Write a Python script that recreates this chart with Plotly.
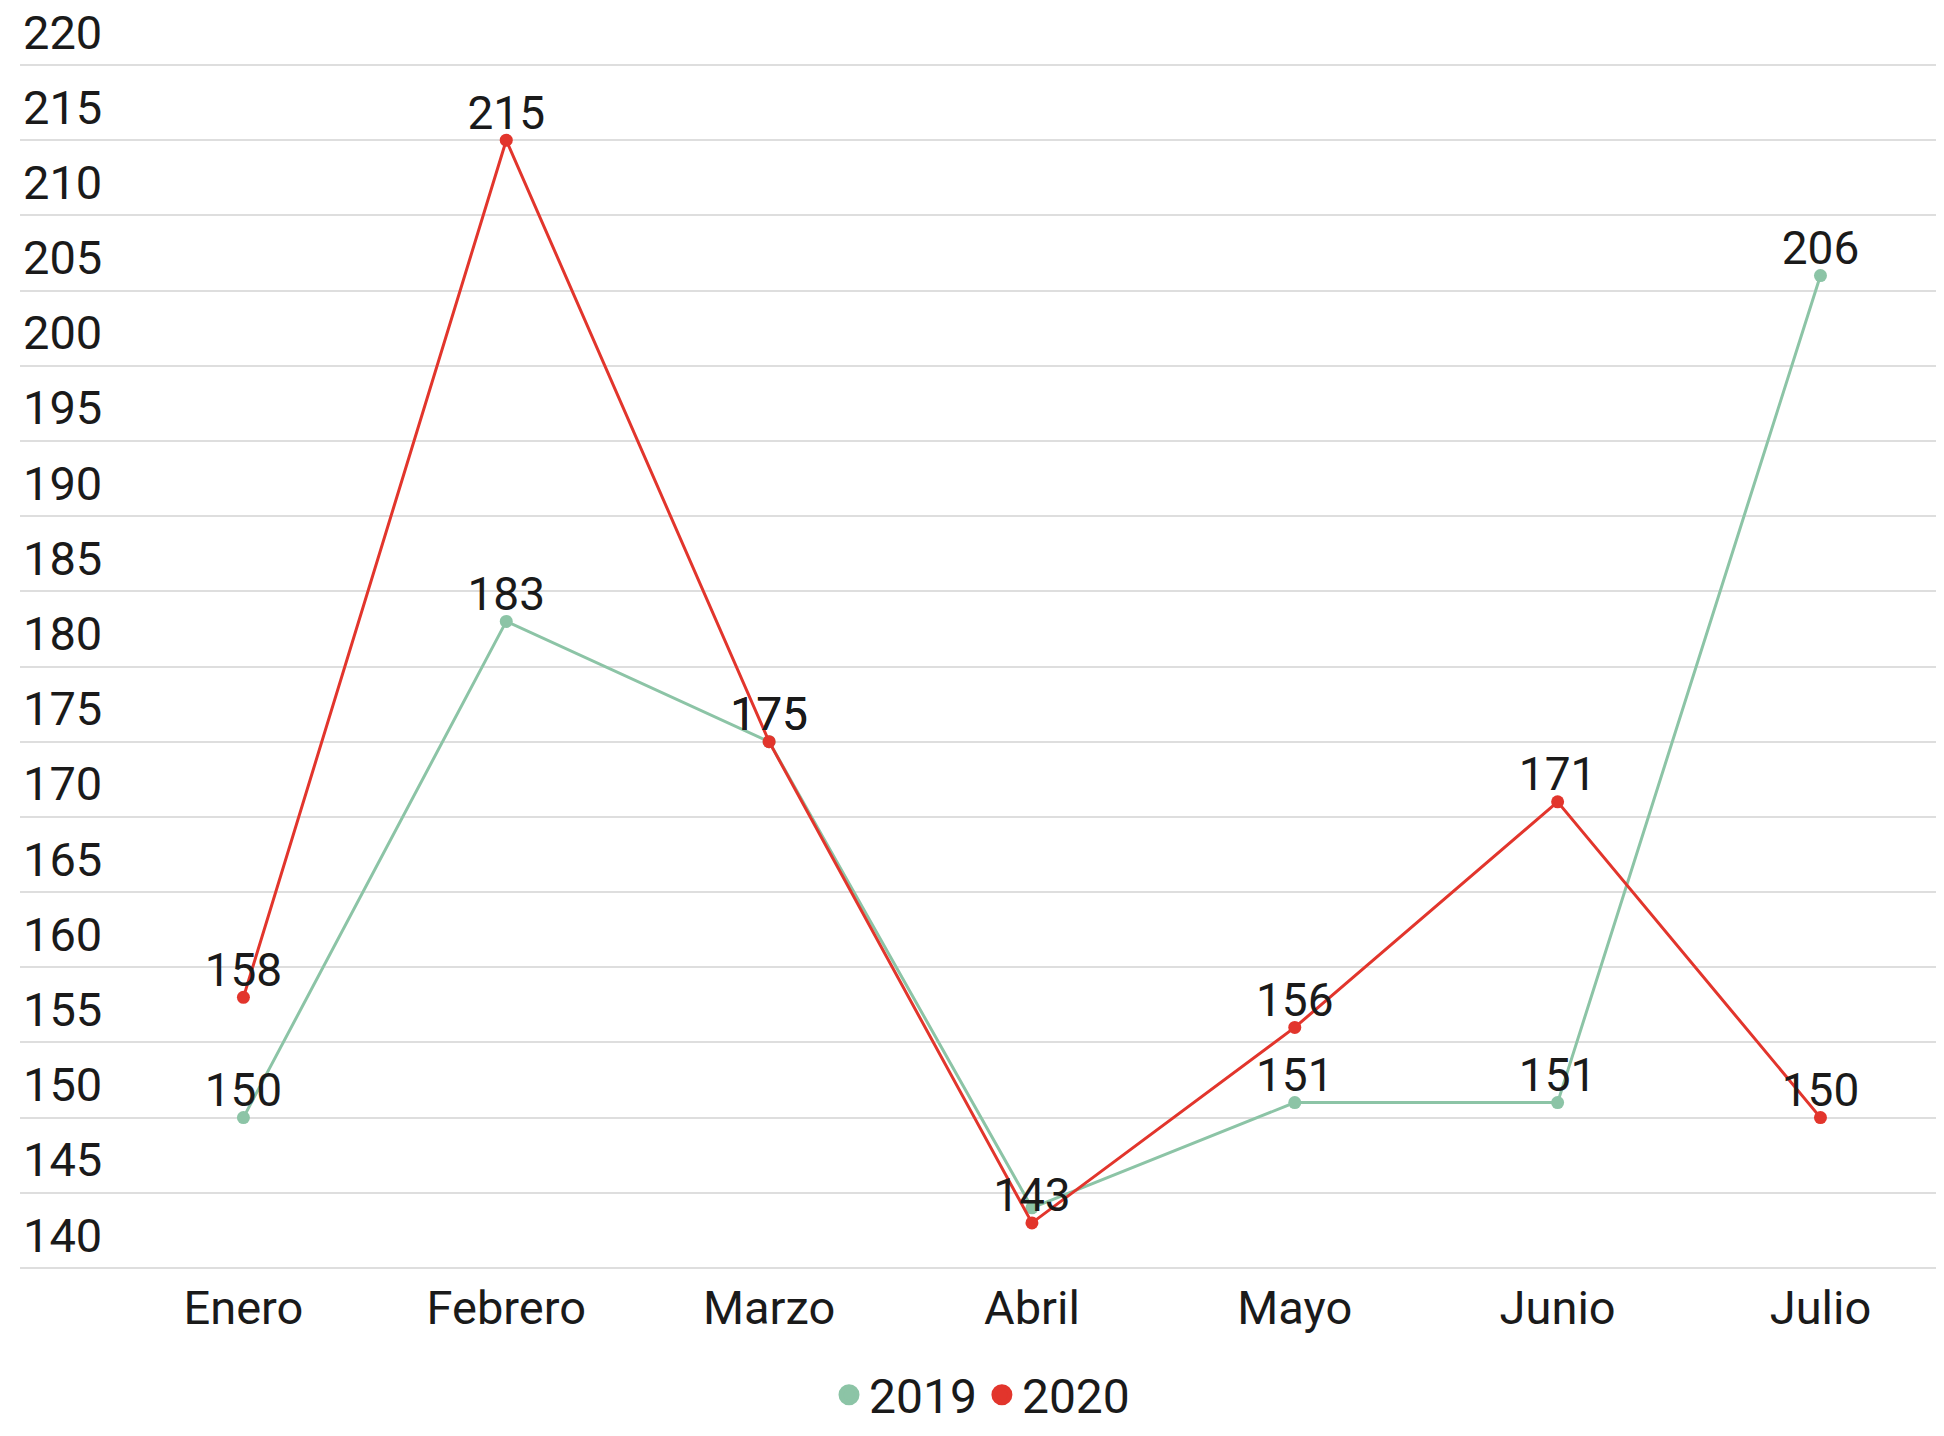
import plotly.graph_objects as go

months = ["Enero", "Febrero", "Marzo", "Abril", "Mayo", "Junio", "Julio"]
v2019 = [150, 183, 175, 144, 151, 151, 206]
v2020 = [158, 215, 175, 143, 156, 171, 150]
labels2019 = ["150", "183", "175", "", "151", "151", "206"]
labels2020 = [str(v) for v in v2020]
y_ticks = list(range(140, 221, 5))

GREEN = "#8cc4a6"
RED = "#e2352c"
FONT = "Roboto, sans-serif"
LABEL_FONT = dict(size=46, color="#1a1a1a", family=FONT)

fig = go.Figure()
fig.add_trace(go.Scatter(
    x=months, y=v2019, mode="lines+markers", name="2019",
    line=dict(color=GREEN, width=3), marker=dict(color=GREEN, size=13),
    showlegend=False, cliponaxis=False,
))
fig.add_trace(go.Scatter(
    x=months, y=v2020, mode="lines+markers", name="2020",
    line=dict(color=RED, width=3), marker=dict(color=RED, size=13),
    showlegend=False, cliponaxis=False,
))
# data labels
fig.add_trace(go.Scatter(
    x=months, y=v2019, mode="text", text=labels2019, textposition="top center",
    textfont=LABEL_FONT, showlegend=False, cliponaxis=False, hoverinfo="skip",
))
fig.add_trace(go.Scatter(
    x=months, y=v2020, mode="text", text=labels2020, textposition="top center",
    textfont=LABEL_FONT, showlegend=False, cliponaxis=False, hoverinfo="skip",
))
# legend entries (dots only)
fig.add_trace(go.Scatter(x=[None], y=[None], mode="markers", name="2019",
                         marker=dict(color=GREEN, size=30, line=dict(color=GREEN, width=5))))
fig.add_trace(go.Scatter(x=[None], y=[None], mode="markers", name="2020",
                         marker=dict(color=RED, size=30, line=dict(color=RED, width=5))))

fig.update_layout(
    width=1936, height=1428, autosize=False,
    margin=dict(l=12, r=0, t=54, b=165),
    plot_bgcolor="white", paper_bgcolor="white",
    font=dict(family=FONT, color="#1a1a1a"),
    legend=dict(orientation="h", x=0.5, xanchor="center", y=-0.134, yanchor="bottom",
                font=dict(size=48, family=FONT), itemsizing="trace", itemwidth=30),
    xaxis=dict(type="category", categoryorder="array", categoryarray=months,
               range=[-0.85, 6.47], showgrid=False, zeroline=False, showline=False,
               automargin=False,
               ticks="", tickfont=dict(size=47, family=FONT, color="#1a1a1a"), ticklabelstandoff=5),
    yaxis=dict(range=[139.8, 220.2], tickvals=y_ticks, ticktext=[str(t) for t in y_ticks],
               showgrid=True, gridcolor="#dedede", gridwidth=2, zeroline=False, showline=False,
               automargin=False,
               ticks="", ticklabelposition="inside top", ticklabeloverflow="allow",
               tickfont=dict(size=47, family=FONT, color="#1a1a1a")),
)

fig.write_html("out.html")
